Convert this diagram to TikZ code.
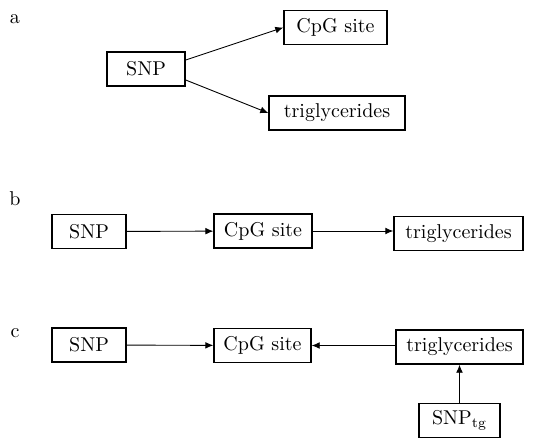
\documentclass[tikz,border=0pt]{standalone}
\usepackage{tikz}
\usetikzlibrary{arrows.meta}

\begin{document}
\begin{tikzpicture}[x=0.5pt,y=-0.5pt,
  box/.style={draw,line width=0.7pt,minimum height=17pt,inner sep=0pt},
  arr/.style={-{Latex[length=4pt,width=3.4pt]},line width=0.45pt}]
\useasboundingbox (0,0) rectangle (550,439);
% panel a
\node (laba) at (15,19) {a};
\node[box,minimum width=39pt] (snpa) at (146,69) {SNP};
\node[box,minimum width=51.5pt] (cpga) at (335.5,27.5) {CpG site};
\node[box,minimum width=68pt] (tga) at (337,113) {triglycerides};
\draw[arr] ([yshift=4.5pt]snpa.east) -- (cpga.west);
\draw[arr] ([yshift=-5.5pt]snpa.east) -- (tga.west);
% panel b
\node (labb) at (15,199) {b};
\node[box,minimum width=37pt] (snpb) at (89,231.5) {SNP};
\node[box,minimum width=49pt] (cpgb) at (263,231) {CpG site};
\node[box,minimum width=64.5pt] (tgb) at (458.5,233.5) {triglycerides};
\draw[arr] (snpb) -- (cpgb);
\draw[arr] (cpgb.east) -- (tgb.west |- cpgb.east);
% panel c
\node (labc) at (15,333) {c};
\node[box,minimum width=37pt] (snpc) at (89,345) {SNP};
\node[box,minimum width=48.5pt] (cpgc) at (262.5,345.5) {CpG site};
\node[box,minimum width=63.5pt] (tgc) at (459.5,347) {triglycerides};
\node[box,minimum width=40.5pt] (snptg) at (459.5,420.5) {SNP\textsubscript{tg}};
\draw[arr] (snpc) -- (cpgc);
\draw[arr] (tgc.west |- cpgc.east) -- (cpgc.east);
\draw[arr] (snptg) -- (tgc);
\end{tikzpicture}
\end{document}
